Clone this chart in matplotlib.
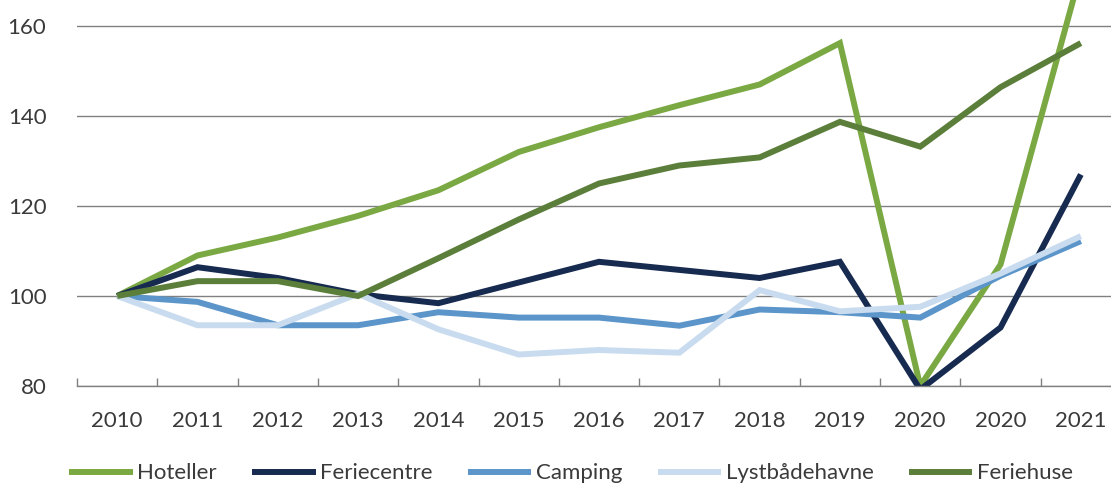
import matplotlib
matplotlib.use("Agg")
import matplotlib.pyplot as plt
import numpy as np

# kategorier (2020 står to gange i originalen)
years = ["2010", "2011", "2012", "2013", "2014", "2015", "2016",
         "2017", "2018", "2019", "2020", "2020", "2021"]

hoteller = [100, 109, 113, 117.8, 123.5, 132, 137.5, 142.4, 147, 156.2, 80, 107, 172]
feriecentre = [100, 106.4, 104, 100.4, 98.4, 103, 107.6, 105.8, 104, 107.6, 79.2, 93, 127]
camping = [100, 98.7, 93.5, 93.5, 96.4, 95.2, 95.2, 93.4, 97, 96.4, 95.2, 104.5, 112.2]
lystbaade = [100, 93.5, 93.5, 100.5, 92.6, 87, 88, 87.4, 101.3, 96.6, 97.6, 105, 113.3]
feriehuse = [100, 103.3, 103.3, 100, 108.4, 117, 125, 129, 130.8, 138.7, 133.2, 146.4, 156.2]

series = [
    ("Hoteller", hoteller, "#7aa843"),
    ("Feriecentre", feriecentre, "#172a4f"),
    ("Camping", camping, "#5b95c9"),
    ("Lystbådehavne", lystbaade, "#c9dcef"),
    ("Feriehuse", feriehuse, "#5b7f3a"),
]

plt.rcParams["font.family"] = ["Lato", "DejaVu Sans"]
txt = "#3a3a3a"

fig = plt.figure(figsize=(11.11, 4.84), dpi=100)
# aksen går ud over billedets kant foroven og til højre (beskåret original)
ax = fig.add_axes([77 / 1111, 98 / 484, 1044 / 1111, 450 / 484])

x = np.arange(len(years))
for name, vals, col in series:
    ax.plot(x, vals, color=col, lw=4.3, label=name, solid_joinstyle="miter",
            solid_capstyle="butt")

ax.set_xlim(-0.5, len(years) - 0.5)
ax.set_ylim(80, 180)
ax.set_yticks([80, 100, 120, 140, 160])
ax.grid(axis="y", color="#808080", lw=1)
ax.set_axisbelow(True)

ax.set_xticks(x)
ax.set_xticklabels(years)
ax.set_xticks(np.arange(-0.5, len(years)), minor=True)
ax.tick_params(axis="x", which="major", length=0, pad=18, labelsize=16, labelcolor=txt)
ax.tick_params(axis="x", which="minor", length=6, direction="in", color="#808080", width=1)
ax.tick_params(axis="y", length=0, pad=22, labelsize=16, labelcolor=txt)

for s in ["left", "right", "top"]:
    ax.spines[s].set_visible(False)
ax.spines["bottom"].set_color("#808080")
ax.spines["bottom"].set_linewidth(1)

leg = fig.legend(loc="center", bbox_to_anchor=(0.514, 0.022), ncol=5, frameon=False,
                 fontsize=16, handlelength=2.85, handletextpad=0.2, columnspacing=1.6,
                 labelcolor=txt)

fig.savefig("out.png", dpi=100)
